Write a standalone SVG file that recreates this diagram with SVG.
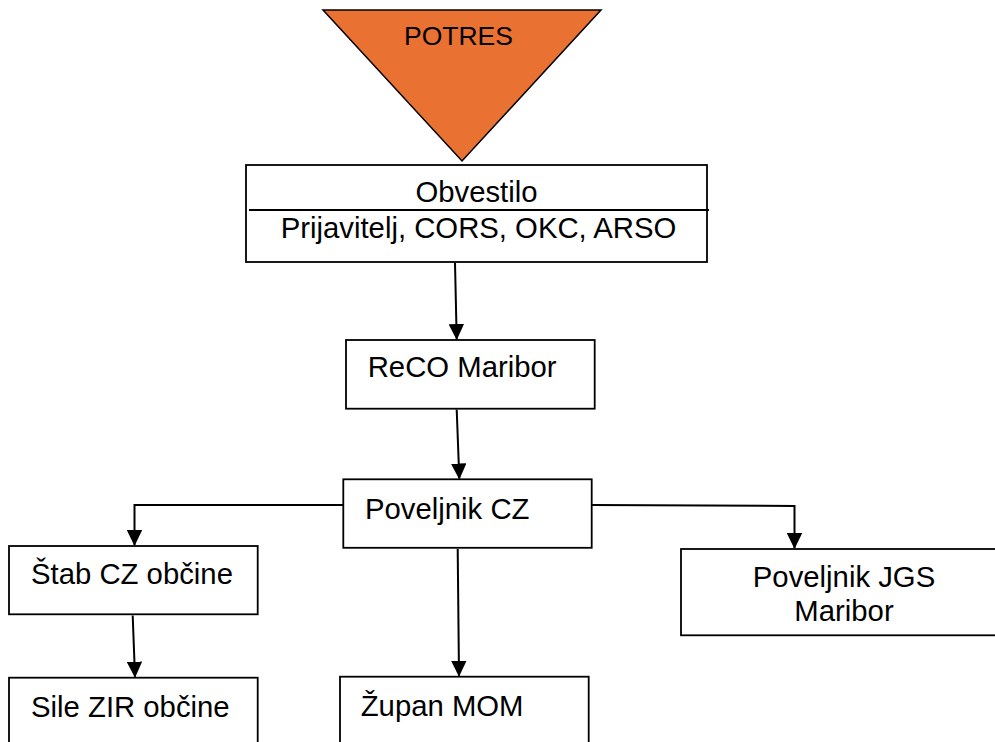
<svg xmlns="http://www.w3.org/2000/svg" width="995" height="742" viewBox="0 0 995 742">
<style>
.box{fill:#ffffff;stroke:#000000;stroke-width:1.8}
.t{font-family:"Liberation Sans",Arial,sans-serif;font-size:29.3px;fill:#000000}
.c{text-anchor:middle}
.conn{fill:none;stroke:#000000;stroke-width:2}
</style>
<defs>
<marker id="arr" markerUnits="userSpaceOnUse" viewBox="0 0 16 15.5" markerWidth="16" markerHeight="15.5" refX="15" refY="7.75" orient="auto">
<path d="M0,0 L16,7.75 L0,15.5 Z" fill="#000000"/>
</marker>
</defs>
<rect x="0" y="0" width="995" height="742" fill="#ffffff"/>
<g id="potres">
<polygon points="323,10 601,10 462,161" fill="#E97132" stroke="#000000" stroke-width="1.5"/>
<text class="t" x="404" y="45" style="font-size:26.5px">POTRES</text>
</g>
<g id="obvestilo">
<rect class="box" x="246" y="165" width="461" height="97"/>
<line x1="249" y1="210" x2="709" y2="210" stroke="#000000" stroke-width="1.8"/>
<text class="t c" x="476.5" y="202">Obvestilo</text>
<text class="t c" x="478.5" y="238">Prijavitelj, CORS, OKC, ARSO</text>
</g>
<g id="reco">
<rect class="box" x="346" y="340" width="248.7" height="68.7"/>
<text class="t" x="367.7" y="377.3">ReCO Maribor</text>
</g>
<g id="poveljnik-cz">
<rect class="box" x="343.3" y="479.3" width="248.4" height="68.5"/>
<text class="t" x="365" y="518.5">Poveljnik CZ</text>
</g>
<g id="stab">
<rect class="box" x="9" y="546" width="248.7" height="68.3"/>
<text class="t" x="31" y="584">Štab CZ občine</text>
</g>
<g id="sile">
<rect class="box" x="9" y="677.7" width="248.7" height="80"/>
<text class="t" x="31" y="716.7">Sile ZIR občine</text>
</g>
<g id="zupan">
<rect class="box" x="340" y="676.7" width="248.7" height="80"/>
<text class="t" x="360.7" y="715.5">Župan MOM</text>
</g>
<g id="jgs">
<rect class="box" x="681" y="549" width="326" height="86.3"/>
<text class="t c" x="844" y="587.3">Poveljnik JGS</text>
<text class="t c" x="844" y="620.7">Maribor</text>
</g>
<g id="connectors">
<path class="conn" d="M455,263 L456.7,339" marker-end="url(#arr)"/>
<path class="conn" d="M456.7,409.5 L459.3,478.5" marker-end="url(#arr)"/>
<path class="conn" d="M343.3,505 L134.5,505 L134.5,545" marker-end="url(#arr)"/>
<path class="conn" d="M592,505 L794.5,506 L794.5,548" marker-end="url(#arr)"/>
<path class="conn" d="M457.7,549 L459,675.7" marker-end="url(#arr)"/>
<path class="conn" d="M132.7,615.5 L135,676.7" marker-end="url(#arr)"/>
</g>
</svg>
